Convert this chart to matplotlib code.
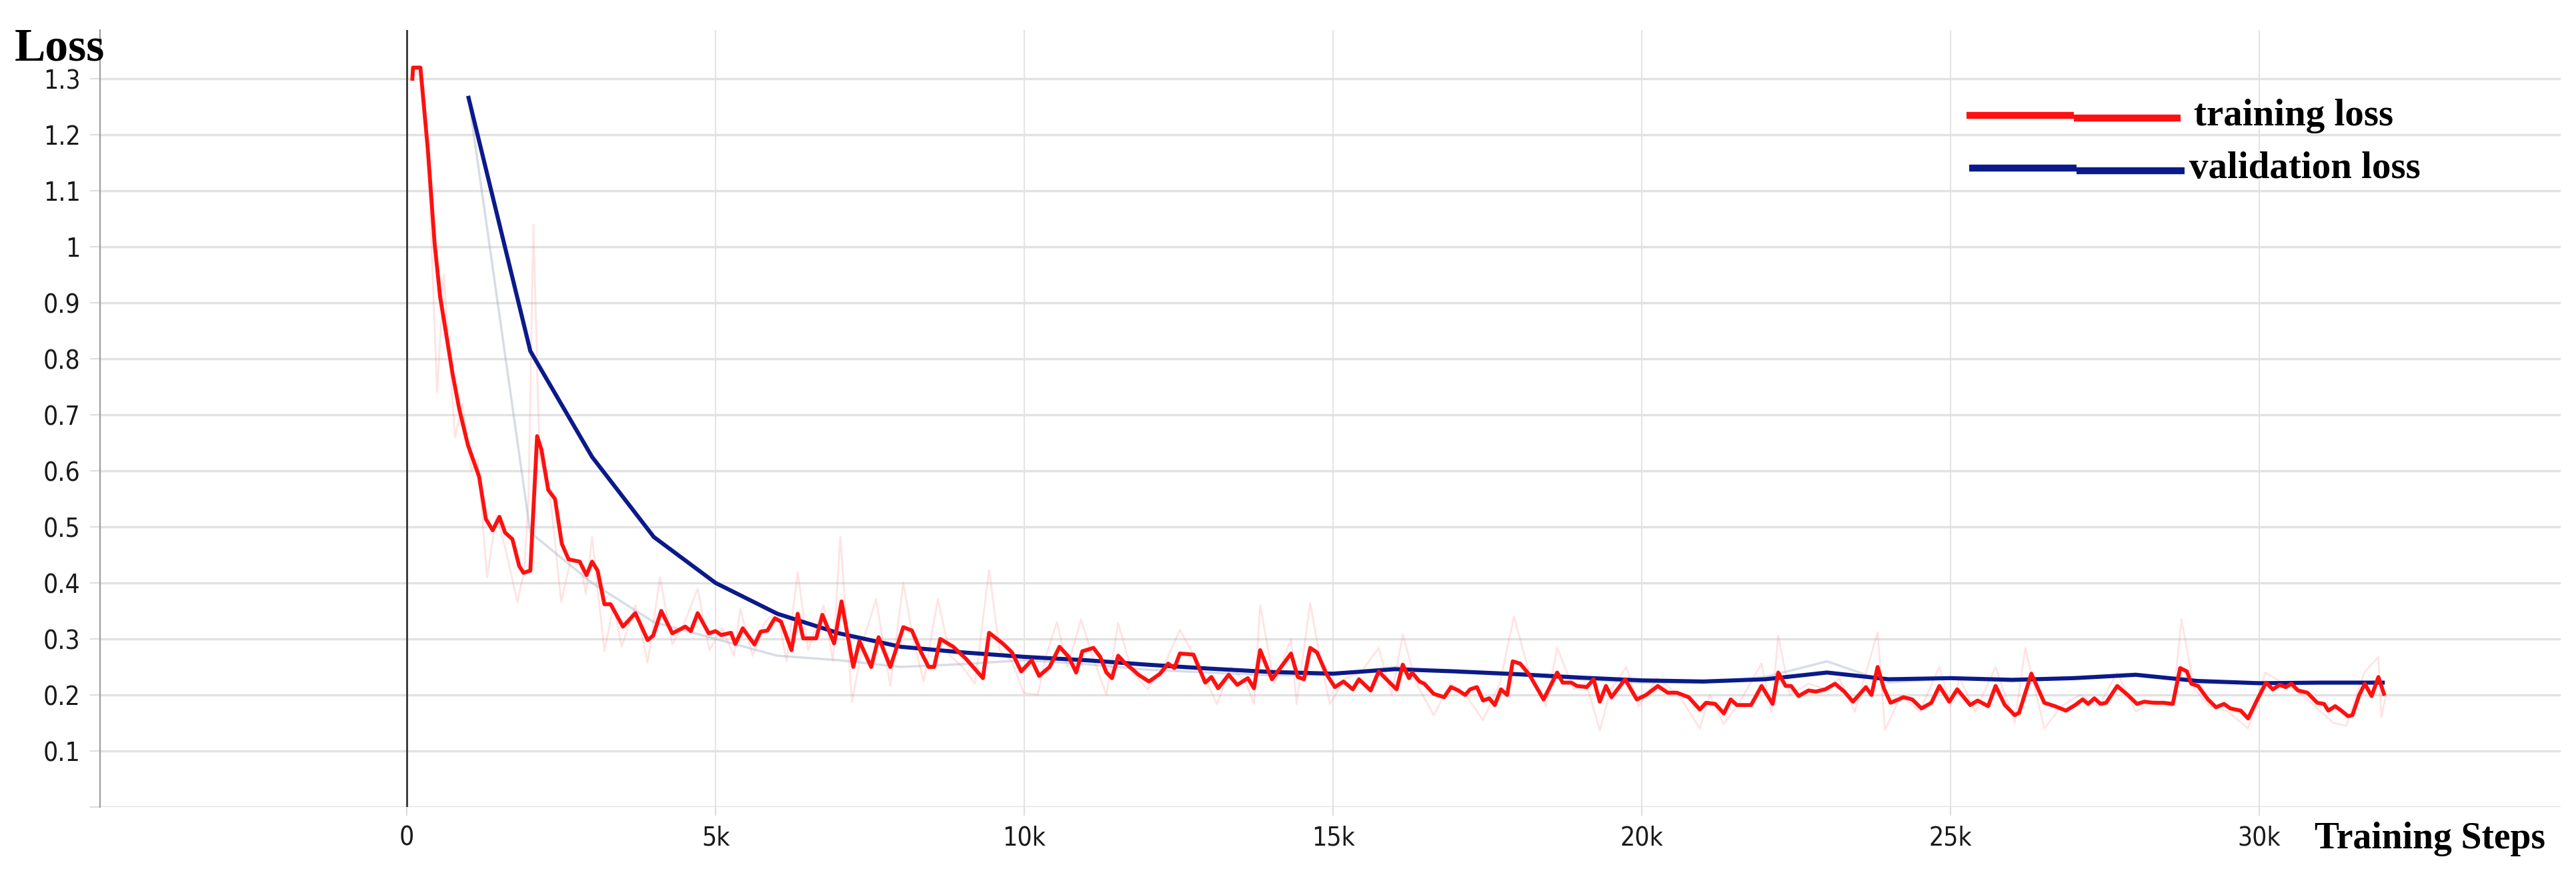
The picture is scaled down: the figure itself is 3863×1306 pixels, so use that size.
#Training / validation loss curves (TensorBoard style export)

import numpy as np
import matplotlib
matplotlib.use("Agg")
import matplotlib.pyplot as plt
from matplotlib.lines import Line2D
from matplotlib import font_manager

#Smoothed training loss (steps in thousands)
train_steps = [0.09, 0.10, 0.22, 0.34, 0.45, 0.54, 0.60, 0.74, 0.85, 0.99, 1.17, 1.28, 1.39, 1.50, 1.59,
               1.71, 1.82, 1.89, 2.00, 2.11, 2.18, 2.29, 2.40, 2.51, 2.62, 2.80, 2.91, 3.00, 3.09, 3.20,
               3.30, 3.50, 3.70, 3.90, 3.99, 4.12, 4.30, 4.51, 4.60, 4.71, 4.89, 5.00,
               5.09, 5.25, 5.32, 5.44, 5.63, 5.73, 5.84, 5.96, 6.06, 6.23, 6.33, 6.42, 6.63, 6.73, 6.92,
               7.04, 7.23, 7.33, 7.52, 7.64, 7.83, 8.04, 8.18, 8.33, 8.45, 8.54, 8.64, 8.85, 9.06, 9.33,
               9.43, 9.66, 9.80, 9.95, 10.12, 10.24, 10.41, 10.57, 10.72, 10.84, 10.94,
               11.12, 11.23, 11.33, 11.42, 11.52, 11.62, 11.75, 11.85, 12.02, 12.20, 12.33, 12.43, 12.52,
               12.74, 12.93, 13.03, 13.14, 13.31, 13.45, 13.62, 13.72, 13.82, 14.01, 14.32, 14.43, 14.53,
               14.63, 14.74, 14.90, 15.03, 15.17, 15.32, 15.42, 15.61, 15.74, 15.90, 16.03, 16.13, 16.23,
               16.28, 16.40, 16.48, 16.63, 16.80,
               16.91, 17.03, 17.14, 17.22, 17.33, 17.43, 17.53, 17.62, 17.72, 17.82, 17.91, 18.03, 18.18,
               18.41, 18.63, 18.72, 18.86, 18.95, 19.11, 19.22, 19.32, 19.42, 19.51, 19.73, 19.92, 20.07,
               20.26, 20.42, 20.57, 20.76, 20.94, 21.04, 21.19, 21.33, 21.44, 21.54, 21.77, 21.94, 22.12,
               22.21, 22.33, 22.42, 22.54,
               22.70, 22.82, 22.97, 23.13, 23.28, 23.42, 23.63, 23.72, 23.82, 23.92, 24.03, 24.24, 24.38,
               24.53, 24.69, 24.82, 24.98, 25.11, 25.32, 25.44, 25.61, 25.73, 25.88, 26.04, 26.11, 26.31,
               26.52, 26.69, 26.87, 27.02, 27.14, 27.23, 27.33, 27.43, 27.52, 27.70, 27.87, 28.02, 28.14,
               28.29, 28.45, 28.60,
               28.72, 28.83, 28.90, 29.01, 29.17, 29.30, 29.43, 29.53, 29.70, 29.82, 29.97, 30.11, 30.22,
               30.33, 30.43, 30.52, 30.63, 30.78, 30.94, 31.05, 31.12, 31.23, 31.33, 31.44, 31.51, 31.62,
               31.71, 31.82, 31.93, 32.02]
train_loss = [1.30, 1.32, 1.32, 1.174, 1.006, 0.91, 0.87, 0.774, 0.71, 0.646, 0.59, 0.514, 0.494, 0.518, 0.49,
              0.478, 0.43, 0.418, 0.422, 0.662, 0.638, 0.566, 0.55, 0.47, 0.442, 0.438, 0.414, 0.438, 0.422, 0.362,
              0.362, 0.322, 0.346, 0.298, 0.306, 0.35, 0.31, 0.322, 0.314, 0.346, 0.31, 0.314,
              0.307, 0.311, 0.291, 0.319, 0.29, 0.313, 0.315, 0.337, 0.331, 0.28, 0.345, 0.301, 0.301, 0.343, 0.292,
              0.367, 0.25, 0.296, 0.25, 0.303, 0.25, 0.321, 0.315, 0.276, 0.25, 0.25, 0.30, 0.286, 0.264, 0.23,
              0.311, 0.291, 0.276, 0.242, 0.262, 0.234, 0.25, 0.286, 0.268, 0.24, 0.278,
              0.284, 0.268, 0.24, 0.23, 0.27, 0.258, 0.246, 0.236, 0.224, 0.238, 0.256, 0.248, 0.274,
              0.272, 0.222, 0.232, 0.212, 0.236, 0.218, 0.23, 0.212, 0.28, 0.228, 0.274, 0.232, 0.228,
              0.284, 0.276, 0.236, 0.214, 0.224, 0.21, 0.228, 0.208, 0.242, 0.224, 0.21, 0.254, 0.23,
              0.24, 0.224, 0.22, 0.202, 0.196,
              0.214, 0.208, 0.20, 0.21, 0.214, 0.19, 0.194, 0.182, 0.21, 0.20, 0.26, 0.256, 0.236,
              0.192, 0.24, 0.222, 0.222, 0.216, 0.214, 0.228, 0.188, 0.216, 0.196, 0.228, 0.192, 0.20,
              0.216, 0.204, 0.204, 0.196, 0.174, 0.186, 0.184, 0.167, 0.192, 0.182, 0.182, 0.216, 0.184,
              0.24, 0.216, 0.216, 0.198,
              0.208, 0.206, 0.21, 0.22, 0.206, 0.188, 0.214, 0.20, 0.25, 0.212, 0.186, 0.196, 0.192,
              0.176, 0.186, 0.216, 0.188, 0.21, 0.182, 0.19, 0.18, 0.216, 0.182, 0.164, 0.168, 0.238,
              0.186, 0.18, 0.172, 0.182, 0.192, 0.184, 0.194, 0.184, 0.186, 0.216, 0.20, 0.184, 0.188,
              0.186, 0.186, 0.184,
              0.248, 0.242, 0.22, 0.216, 0.192, 0.178, 0.184, 0.176, 0.172, 0.158, 0.192, 0.222, 0.21,
              0.218, 0.214, 0.22, 0.208, 0.204, 0.186, 0.184, 0.172, 0.18, 0.172, 0.162, 0.164, 0.20,
              0.22, 0.198, 0.232, 0.202]

#Raw (unsmoothed) training loss, drawn faintly behind
raw_steps = [0.1, 0.25, 0.35, 0.49, 0.6, 0.78, 0.9, 1.05, 1.15, 1.3, 1.45, 1.6, 1.79, 1.9, 1.97, 2.05,
             2.15, 2.3, 2.5, 2.65, 2.8, 2.9, 3.0, 3.2, 3.35, 3.48, 3.7, 3.9, 4.1, 4.3, 4.5, 4.71, 4.9,
             5.1, 5.3, 5.4, 5.6, 5.8, 6.0, 6.15, 6.33, 6.5, 6.75, 6.9, 7.02, 7.21, 7.4, 7.6, 7.83, 8.04,
             8.2, 8.37, 8.6, 8.8, 9.0, 9.2, 9.43, 9.6, 9.8, 9.99, 10.22, 10.35, 10.53, 10.7, 10.92, 11.1,
             11.33, 11.52, 11.75, 12.0, 12.25, 12.52, 12.8, 13.12, 13.35, 13.6, 13.72, 13.82, 14.05,
             14.32, 14.41, 14.63, 14.8, 14.95, 15.2, 15.45, 15.74, 15.95, 16.13, 16.35, 16.63, 16.9,
             17.15, 17.43, 17.7, 17.93, 18.2, 18.45, 18.63, 18.9, 19.1, 19.32, 19.5, 19.75, 19.95,
             20.25, 20.6, 20.94, 21.1, 21.33, 21.6, 21.94, 22.1, 22.21, 22.4, 22.7, 23.0, 23.2, 23.45,
             23.82, 23.94, 24.2, 24.5, 24.82, 25.0, 25.15, 25.4, 25.73, 26.04, 26.21, 26.52, 26.8,
             27.1, 27.4, 27.7, 28.0, 28.3, 28.6, 28.74, 28.95, 29.2, 29.5, 29.82, 30.1, 30.4, 30.7,
             31.0, 31.2, 31.41, 31.7, 31.93, 31.98, 32.05]
raw_loss = [1.32, 1.30, 1.15, 0.74, 0.95, 0.66, 0.72, 0.60, 0.62, 0.41, 0.52, 0.46, 0.366, 0.42, 0.55, 1.04,
            0.62, 0.58, 0.366, 0.44, 0.44, 0.38, 0.482, 0.278, 0.36, 0.286, 0.36, 0.258, 0.41, 0.29, 0.33, 0.39, 0.28,
            0.32, 0.27, 0.354, 0.27, 0.33, 0.35, 0.26, 0.419, 0.28, 0.36, 0.26, 0.483, 0.188, 0.30, 0.371, 0.216, 0.40,
            0.30, 0.224, 0.371, 0.27, 0.25, 0.22, 0.423, 0.28, 0.26, 0.204, 0.20, 0.27, 0.33, 0.25, 0.335, 0.27,
            0.20, 0.328, 0.24, 0.21, 0.25, 0.316, 0.26, 0.184, 0.25, 0.22, 0.184, 0.36, 0.22,
            0.30, 0.184, 0.364, 0.26, 0.184, 0.23, 0.24, 0.284, 0.20, 0.308, 0.22, 0.164, 0.22,
            0.20, 0.155, 0.22, 0.34, 0.23, 0.18, 0.284, 0.21, 0.22, 0.137, 0.21, 0.25, 0.18,
            0.23, 0.20, 0.14, 0.20, 0.148, 0.19, 0.256, 0.17, 0.306, 0.20, 0.22, 0.21, 0.23, 0.17,
            0.312, 0.137, 0.20, 0.17, 0.25, 0.18, 0.23, 0.17, 0.25, 0.15, 0.284, 0.14, 0.18,
            0.20, 0.18, 0.24, 0.17, 0.19, 0.18, 0.335, 0.21, 0.18, 0.17, 0.14, 0.24, 0.22, 0.20,
            0.17, 0.15, 0.145, 0.24, 0.268, 0.16, 0.20]

#Validation loss, evaluated every 1k steps
val_steps = list(range(1, 33))
val_loss = [1.266, 0.814, 0.625, 0.482, 0.40, 0.345, 0.31, 0.286, 0.276, 0.268, 0.262, 0.254, 0.247, 0.241,
            0.238, 0.246, 0.242, 0.237, 0.231, 0.226, 0.224, 0.228, 0.24, 0.228, 0.23, 0.227, 0.23, 0.236,
            0.225, 0.221, 0.222, 0.222]
val_raw = [1.266, 0.49, 0.40, 0.33, 0.30, 0.27, 0.262, 0.25, 0.255, 0.262, 0.255, 0.245, 0.24, 0.235,
           0.236, 0.25, 0.24, 0.235, 0.228, 0.222, 0.222, 0.232, 0.26, 0.222, 0.23, 0.224, 0.232, 0.238,
           0.222, 0.22, 0.222, 0.222]

xticks = [0, 5, 10, 15, 20, 25, 30]
xticklabels = ['0', '5k', '10k', '15k', '20k', '25k', '30k']
yticks = [0, 0.1, 0.2, 0.3, 0.4, 0.5, 0.6, 0.7, 0.8, 0.9, 1.0, 1.1, 1.2, 1.3]
yticklabels = ['', '0.1', '0.2', '0.3', '0.4', '0.5', '0.6', '0.7', '0.8', '0.9', '1', '1.1', '1.2', '1.3']

red = '#ff1010'
navy = '#0b1a8a'
serif = ['Liberation Serif', 'DejaVu Serif']

#tick labels in the original use a tall, narrow sans; pick a condensed face if one exists
tick_font, tick_stretch, tick_size = 'Roboto', 'normal', 29.5
for f in font_manager.fontManager.ttflist:
    if f.name == 'DejaVu Sans' and f.stretch == 'condensed':
        tick_font, tick_stretch, tick_size = 'DejaVu Sans', 'condensed', 28
        break

W, H = 3863, 1306
fig = plt.figure(figsize=(W/100, H/100), dpi=100)
ax = fig.add_axes([0.0388, 0.0735, 0.9940-0.0388, 0.9655-0.0735])

k = 1000.0
ax.plot(np.array(raw_steps)*k, raw_loss, color='#ff8080', alpha=0.22, lw=2, zorder=2)
ax.plot(np.array(val_steps)*k, val_raw, color='#aab2c8', alpha=0.45, lw=2.5, zorder=2)
ax.plot(np.array(val_steps)*k, val_loss, color=navy, lw=4.4, zorder=3, solid_joinstyle='round')
ax.plot(np.array(train_steps)*k, train_loss, color=red, lw=4.2, zorder=4, solid_joinstyle='round')

ax.axvline(0, color='#333333', lw=2, zorder=1)

ax.set_xlim(-4970, 34880)
ax.set_ylim(0, 1.387)
ax.set_xticks(np.array(xticks)*k)
ax.set_xticklabels(xticklabels)
ax.set_yticks(yticks)
ax.set_yticklabels(yticklabels)
for lab in ax.get_xticklabels() + ax.get_yticklabels():
    lab.set_family(tick_font)
    lab.set_stretch(tick_stretch)

ax.grid(axis='y', color='#e2e2e2', lw=2.5, zorder=0)
ax.grid(axis='x', color='#e4e4e4', lw=1.5, zorder=0)
ax.set_axisbelow(True)

for s in ['top', 'right', 'bottom']:
    ax.spines[s].set_visible(False)
ax.spines['left'].set_color('#9a9a9a')
ax.spines['left'].set_linewidth(1.5)

ax.tick_params(axis='y', length=11, width=1.5, color='#dddddd', pad=10, labelsize=tick_size, labelcolor='#1a1a1a')
ax.tick_params(axis='x', length=9, width=1.5, color='#dddddd', pad=11, labelsize=tick_size, labelcolor='#1a1a1a')

#Axis captions
fig.text(0.0057, 0.931, 'Loss', family=serif, weight='bold', size=50, va='baseline')
fig.text(0.8985, 0.026, 'Training Steps', family=serif, weight='bold', size=40, va='baseline')

#Legend drawn by hand (two-piece strokes like the original)
def fy(y):
    return 1 - y/H

for (x0, x1, x2, ya, yb, col) in [(2949, 3110, 3270, 173, 177, red), (2953, 3114, 3276, 252, 256, navy)]:
    fig.add_artist(Line2D([x0/W, x1/W], [fy(ya), fy(ya)], color=col, lw=7.5, solid_capstyle='butt'))
    fig.add_artist(Line2D([x1/W, x2/W], [fy(yb), fy(yb)], color=col, lw=7.5, solid_capstyle='butt'))
fig.text(3290/W, fy(188), 'training loss', family=serif, weight='bold', size=41, va='baseline')
fig.text(3283/W, fy(267), 'validation loss', family=serif, weight='bold', size=41, va='baseline')

plt.savefig('out.png', dpi=100)
